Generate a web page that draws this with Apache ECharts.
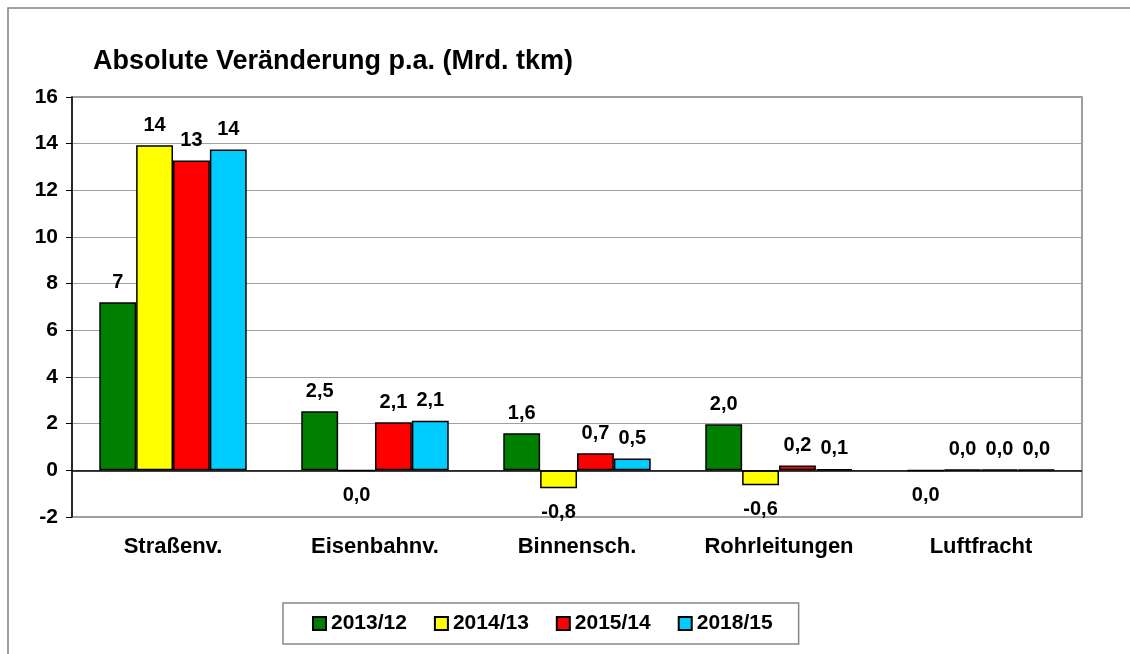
<!DOCTYPE html>
<html>
<head>
<meta charset="utf-8">
<script src="https://cdn.jsdelivr.net/npm/echarts@6/dist/echarts.min.js"></script>
<style>
  html, body { margin: 0; padding: 0; background: #fff; }
  #chart { width: 1130px; height: 654px; }
</style>
</head>
<body>
<div id="chart"></div>
<script>
  // Kategorien und Werte (Mrd. tkm)
  var categories = ['Straßenv.', 'Eisenbahnv.', 'Binnensch.', 'Rohrleitungen', 'Luftfracht'];
  var seriesNames = ['2013/12', '2014/13', '2015/14', '2018/15'];
  var v2013 = [7.2, 2.53, 1.59, 1.98, -0.01];
  var v2014 = [13.93, -0.02, -0.77, -0.64, 0.02];
  var v2015 = [13.28, 2.06, 0.73, 0.21, 0.03];
  var v2018 = [13.75, 2.13, 0.51, 0.06, 0.03];
  var colors = ['#008000', '#ffff00', '#ff0000', '#00ccff'];
  // Nachkommastellen der Beschriftung je Kategorie
  var labelDecimals = [0, 1, 1, 1, 1];
  var yTicks = { min: -2, max: 16, interval: 2 };

  var chart = echarts.init(document.getElementById('chart'));
  var font = 'Liberation Sans, Arial, sans-serif';

  function fmt(params) {
    var d = labelDecimals[params.dataIndex];
    var s = Number(params.value).toFixed(d);
    if (Number(s) === 0) s = Number(0).toFixed(d);
    return s.replace('.', ',');
  }

  function makeSeries(name, values, color, idx) {
    var s = {
      name: name,
      type: 'bar',
      barGap: '0%',
      barCategoryGap: '27%',
      itemStyle: { color: color, borderColor: '#000', borderWidth: 1.5 },
      label: {
        show: true,
        formatter: fmt,
        color: '#000',
        fontFamily: font,
        fontWeight: 'bold',
        fontSize: 20
      },
      data: values.map(function (v) {
        return {
          value: v,
          label: v < 0 ? { position: 'bottom', distance: 14 } : { position: 'top', distance: 10 }
        };
      })
    };
    if (idx === 0) {
      s.markLine = {
        silent: true,
        symbol: 'none',
        label: { show: false },
        lineStyle: { color: '#000', width: 1.5, type: 'solid' },
        data: [{ yAxis: 0 }]
      };
    }
    return s;
  }

  var allValues = [v2013, v2014, v2015, v2018];

  chart.setOption({
    animation: false,
    textStyle: { fontFamily: font },
    graphic: [{
      type: 'rect',
      shape: { x: 8, y: 8, width: 1200, height: 700 },
      style: { fill: 'none', stroke: '#808080', lineWidth: 1.5 },
      silent: true
    }],
    title: {
      text: 'Absolute Veränderung p.a. (Mrd. tkm)',
      left: 88,
      top: 43,
      textStyle: { fontSize: 27, fontWeight: 'bold', color: '#000', fontFamily: font }
    },
    legend: {
      data: seriesNames,
      left: 283,
      top: 603,
      icon: 'rect',
      itemWidth: 13,
      itemHeight: 13,
      itemGap: 27,
      padding: [10, 26, 10, 29],
      borderColor: '#888',
      borderWidth: 1.5,
      textStyle: { fontSize: 21, fontWeight: 'bold', color: '#000', fontFamily: font }
    },
    grid: {
      left: 72, top: 97, right: 48, bottom: 137,
      show: true, borderColor: '#808080', borderWidth: 1.5, backgroundColor: 'transparent'
    },
    xAxis: {
      type: 'category',
      data: categories,
      axisLine: { show: false, onZero: false },
      axisTick: { show: false },
      axisLabel: { margin: 19, color: '#000', fontWeight: 'bold', fontSize: 22 }
    },
    yAxis: {
      type: 'value',
      min: yTicks.min,
      max: yTicks.max,
      interval: yTicks.interval,
      axisLine: { show: true, lineStyle: { color: '#000', width: 1.5 } },
      axisTick: { show: true, length: 6, lineStyle: { color: '#000', width: 1 } },
      splitLine: { lineStyle: { color: '#a0a0a0', width: 1 } },
      axisLabel: { margin: 14, color: '#000', fontWeight: 'bold', fontSize: 21 }
    },
    series: allValues.map(function (vals, i) {
      return makeSeries(seriesNames[i], vals, colors[i], i);
    })
  });
</script>
</body>
</html>
